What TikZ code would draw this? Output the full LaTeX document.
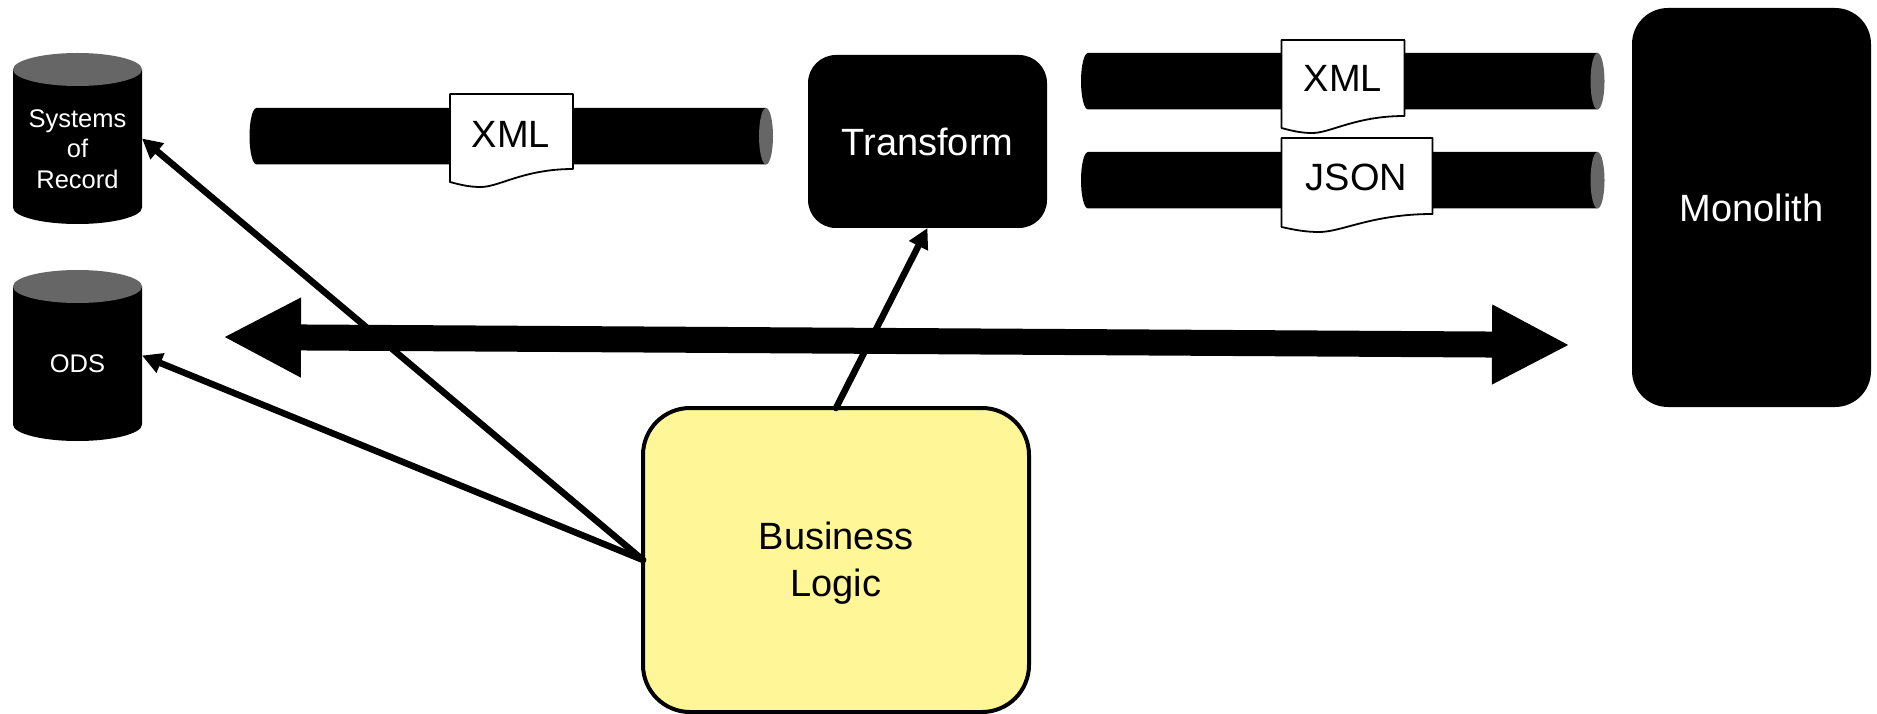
\documentclass[tikz,border=0pt]{standalone}
\usepackage{fontspec}
\setmainfont{Liberation Sans}
\usetikzlibrary{arrows.meta}
\definecolor{capgray}{HTML}{666666}
\definecolor{bizyellow}{HTML}{FFF697}
\tikzset{
  blackbox/.style={shape=rectangle,fill=black,text=white,inner sep=0pt,outer sep=0pt,align=center,font=\fontsize{38}{46}\selectfont},
  bizbox/.style={shape=rectangle,draw=black,line width=4pt,fill=bizyellow,inner sep=0pt,outer sep=0pt},
  biztext/.style={text=black,inner sep=0pt,align=center,font=\fontsize{38}{46.5}\selectfont},
  cylbox/.style={shape=rectangle,inner sep=0pt,outer sep=0pt,minimum width=129pt,minimum height=171pt},
  cyltext/.style={text=white,inner sep=0pt,align=center,font=\fontsize{25.5}{30.5}\selectfont},
  doctext/.style={text=black,inner sep=0pt,anchor=base,font=\fontsize{38}{44}\selectfont},
  docshape/.style={draw=black,line width=1.8pt,fill=white,line join=round},
  thinarrow/.style={draw=black,line width=6.5pt,line cap=round,-{Triangle[length=20pt,width=20pt]}},
  bigarrow/.style={draw=black,line width=26pt,{Triangle[length=78pt,width=74pt]}-{Triangle[length=78pt,width=74pt]}},
}
% name, centre x, top y of body (top of upper ellipse)
\newcommand{\mycyl}[3]{%
  \fill[black] (#2-64.5,#3+16.5) -- (#2-64.5,#3+154.5) arc[start angle=180,end angle=0,x radius=64.5,y radius=16.5]
     -- (#2+64.5,#3+16.5) -- cycle;
  \fill[capgray] (#2,#3+16.5) ellipse[x radius=64.5,y radius=16.5];
  \node[cylbox] (#1) at (#2,#3+85.5) {};
}
% left x, right cap centre x, top y
\newcommand{\mypipe}[3]{%
  \fill[black] (#1+7,#3) arc[start angle=270,end angle=90,x radius=7,y radius=28.25] -- (#2,#3+56.5) -- (#2,#3) -- cycle;
  \fill[capgray] (#2,#3+28.25) ellipse[x radius=7,y radius=28.25];
}
% x1,x2,top,bottom right,bottom left
\newcommand{\mydoc}[5]{%
  \path[docshape] (#1,#3) -- (#2,#3) -- (#2,#4)
     .. controls (#2-0.40*#2+0.40*#1,#4) and (#1+0.40*#2-0.40*#1,#5+5) .. (#1+0.25*#2-0.25*#1,#5+5)
     .. controls (#1+0.16*#2-0.16*#1,#5+5) and (#1+0.09*#2-0.09*#1,#5+3) .. (#1,#5) -- cycle;
}
\begin{document}
\begin{tikzpicture}[x=1pt,y=-1pt]
\useasboundingbox (0,0) rectangle (1877,714);

\mycyl{sor}{77.5}{53}
\node[cyltext] (sortext) at (77.5,149) {Systems\\of\\Record};
\mycyl{ods}{77.5}{270}
\node[cyltext] (odstext) at (77.5,364) {ODS};

\mypipe{249.5}{766}{108}
\mydoc{450}{573}{94}{169}{182}
\node[doctext] (xmla) at (511,147.5) {XML};

\mypipe{1081}{1597.5}{53}
\mypipe{1081}{1597.5}{152}
\mydoc{1281.5}{1404.5}{40}{116}{128}
\node[doctext] (xmlb) at (1343,92) {XML};
\mydoc{1281.5}{1432.5}{138}{214}{227}
\node[doctext] (json) at (1356.5,191) {JSON};

\node[blackbox,minimum width=239pt,minimum height=173pt,rounded corners=28pt] (transform) at (927.5,141.5) {\raisebox{-1.5pt}{Transform}};
\node[blackbox,minimum width=239pt,minimum height=399pt,rounded corners=36pt] (monolith) at (1751.5,207.5) {\raisebox{-2pt}{Monolith}};
\node[bizbox,minimum width=386pt,minimum height=304pt,rounded corners=47pt] (biz) at (836,560) {};
\node[biztext] (biztxt) at (836,563) {Business\\Logic};

\coordinate (bigl) at (223,337);
\coordinate (bigr) at (1570,345);
\path[bigarrow] (bigl) -- (bigr);

\path[thinarrow] (biz.west) -- (sor.east);
\path[thinarrow] (biz.west) -- (ods.east);
\path[thinarrow] (biz.north) -- (transform.south);
\end{tikzpicture}
\end{document}
